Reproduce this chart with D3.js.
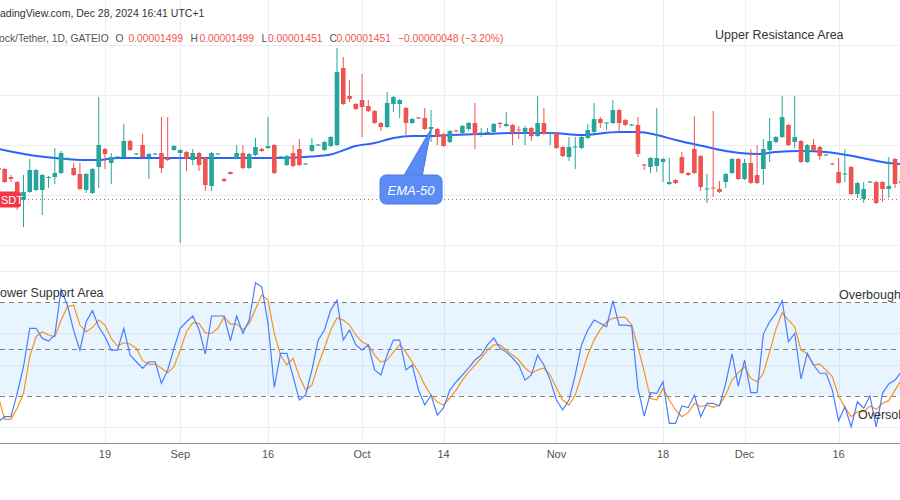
<!DOCTYPE html>
<html>
<head>
<meta charset="utf-8">
<script src="https://cdn.jsdelivr.net/npm/d3@7"></script>
<style>
  body { margin: 0; background: #fff; }
  svg { display: block; font-family: "Liberation Sans", Arial, sans-serif; }
</style>
</head>
<body>
<div id="chart"></div>
<script>
// Daily candles, prices in units of 1e-8 USDT (1451 = 0.00001451)
const open = [1514,1512,1496,1486,1450,1466,1470,1470,1494,1496,1504,1532,1514,1502,1470,1464,1516,1552,1524,1535,
  1536,1568,1541,1560,1536,1541,1544,1534,1550,1544,1546,1530,1544,1534,1478,1541,1492,1506,1534,1544,
  1514,1540,1552,1554,1560,1535,1520,1544,1552,1521,1548,1559,1550,1558,1560,1714,1658,1642,1650,1638,
  1628,1604,1596,1642,1642,1634,1604,1615,1614,1592,1592,1582,1566,1589,1584,1592,1604,1583,1584,1586,
  1604,1598,1600,1591,1584,1594,1578,1604,1583,1584,1556,1536,1555,1554,1574,1586,1612,1603,1604,1630,
  1610,1599,1600,1521,1516,1518,1526,1482,1490,1536,1504,1552,1538,1471,1475,1472,1486,1504,1532,1492,
  1524,1500,1512,1550,1566,1576,1600,1566,1568,1526,1560,1556,1539,1523,1506,1501,1516,1462,1452,1485,
  1486,1486,1472,1532,1488];
const high = [1516,1514,1500,1488,1500,1532,1512,1502,1498,1554,1548,1536,1524,1524,1504,1514,1656,1554,1544,1538,
  1602,1570,1544,1582,1544,1544,1616,1616,1560,1552,1548,1552,1546,1536,1546,1544,1494,1507,1560,1560,
  1544,1574,1554,1616,1562,1538,1540,1560,1572,1524,1574,1562,1568,1578,1754,1736,1690,1644,1702,1650,
  1630,1606,1666,1658,1652,1636,1614,1616,1634,1630,1594,1584,1590,1590,1600,1606,1644,1594,1594,1604,
  1606,1626,1602,1598,1598,1596,1658,1634,1586,1586,1558,1576,1576,1578,1602,1644,1616,1606,1650,1632,
  1612,1602,1616,1522,1536,1634,1534,1534,1492,1546,1506,1618,1540,1502,1628,1488,1504,1534,1534,1532,
  1552,1560,1572,1614,1578,1658,1602,1658,1570,1562,1572,1558,1542,1524,1534,1552,1518,1486,1486,1488,
  1488,1488,1536,1534,1490];
const low = [1508,1484,1486,1430,1396,1464,1468,1420,1474,1482,1502,1530,1498,1470,1464,1462,1474,1512,1482,1534,
  1534,1548,1540,1534,1492,1540,1504,1528,1548,1364,1508,1520,1508,1468,1468,1540,1486,1501,1532,1512,
  1512,1538,1546,1552,1502,1534,1518,1516,1518,1520,1546,1558,1548,1556,1558,1640,1646,1630,1576,1626,
  1602,1588,1594,1626,1614,1580,1602,1612,1590,1566,1560,1556,1564,1586,1582,1588,1552,1576,1582,1584,
  1594,1596,1560,1572,1560,1568,1576,1580,1560,1552,1536,1528,1512,1552,1572,1584,1594,1590,1602,1586,
  1598,1598,1536,1510,1504,1506,1486,1480,1482,1502,1498,1502,1468,1444,1456,1464,1474,1502,1490,1490,
  1482,1482,1480,1526,1564,1574,1558,1554,1524,1524,1548,1530,1538,1520,1482,1486,1460,1454,1444,1484,
  1442,1446,1454,1474,1480];
const close = [1510,1486,1492,1450,1466,1510,1510,1500,1496,1504,1544,1534,1500,1472,1502,1512,1560,1542,1536,1537,
  1568,1550,1543,1536,1542,1543,1514,1530,1558,1550,1532,1544,1520,1480,1544,1543,1488,1502,1544,1514,
  1542,1556,1548,1558,1504,1537,1538,1518,1520,1523,1560,1561,1566,1576,1706,1642,1652,1632,1636,1628,
  1604,1596,1644,1656,1650,1604,1612,1613,1592,1596,1576,1558,1588,1587,1598,1604,1580,1585,1586,1602,
  1602,1602,1584,1589,1594,1578,1604,1582,1585,1554,1538,1556,1557,1576,1590,1612,1604,1605,1630,1604,
  1600,1601,1542,1519,1534,1534,1532,1486,1484,1504,1500,1504,1476,1473,1473,1466,1502,1532,1492,1524,
  1484,1484,1552,1568,1576,1616,1560,1576,1526,1560,1550,1538,1541,1521,1484,1503,1462,1484,1472,1487,
  1444,1472,1478,1482,1484];

// EMA-50 read at a few bars
const emaBar = [0,5,9,13,16,19,24,36,44,50,53,57,60,63,66,69,72,77,83,88,93,99,102,105,108,113,116,121,124,128,132,137,142,144];
const emaVal = [1552,1540,1534,1530,1530,1534,1534,1534,1534,1537,1541,1558,1564,1574,1578,1578,1580,1582,1584,1584,1580,1586,1586,1580,1570,1556,1548,1542,1546,1548,1546,1536,1524,1522];

// Stochastic %K and %D
const stochK = [3.3,6.5,6.5,21.5,38.6,63.3,63.3,56.8,55.1,59,88.3,78.2,62,49.3,67.5,74.6,64.3,57.9,49.3,49.3,
  63.3,46.1,41.8,37.6,41.8,41.8,27.9,36.5,50.4,63.3,67.5,71.2,62.6,46.8,71.2,71.2,71.2,55.3,71.2,60,
  68.6,92.6,90,66.5,25.4,47.2,47.2,32.2,17.2,20.4,36.5,55.7,62.2,75,81.4,55.7,62.2,52.6,49.3,52.6,
  36.5,33.3,46.1,55.7,55.7,36.5,39.7,23.6,14,20.4,7.6,12.1,23.6,28.8,33.3,37.8,42.9,46.1,52.6,57,
  50.6,48,44.2,39.7,30,33.3,46.1,39.7,30,17.2,10.8,17.2,33.3,52.6,62.2,68.6,66.5,64.3,81,65.4,
  65.4,64.7,24.7,6.9,21.9,21.5,29,2.2,2.2,13.4,12.3,20.4,6.5,15.1,15.1,13.4,27.9,46.8,26.2,42.9,
  21.9,21.9,59.6,67.5,72.9,81,54.7,60,30.7,47.2,39.7,34.4,34.4,23.6,3.9,12.9,0,16.1,11.9,19.8,
  0,21.5,27.5,30,35.4];
const stochD = [19.3,4.8,4.8,11.9,21.5,45,57.9,61.1,59,57.9,68.6,77.1,78.2,65.4,61.1,63.9,68.6,65.4,56.8,51.9,
  54,53.2,50.4,42.5,40.3,40.3,37.6,34.7,38.6,49.3,61.1,66.9,66.5,60.4,60,63.3,70.7,66,66,62.2,
  66.5,75.5,84.7,81.4,60,46.1,39.7,44,32.2,23.6,26.8,39.7,50.6,62.2,69.9,68.6,65.4,59,54.5,52.6,
  46.1,41.6,42.9,48,52.6,48,41.6,35.2,26.8,20.4,15.9,14,18.5,23.6,30,35.2,39.7,44.2,49.3,52.6,
  52.6,49.3,46.1,42.9,37.8,34.6,36.5,37.8,33.3,24.9,17.2,14,20.4,33.3,46.1,55.7,62.6,67.5,69.7,70.3,
  70.3,65.4,51.4,35.4,18.3,17.2,24.7,17.2,10.8,6.5,9.1,15.1,12.9,14,12.5,14,20.4,30,34.7,38.6,
  31.1,29,34.4,48.2,62.6,73.3,68.6,64.3,49.3,47.2,39.7,40.3,36.5,32.2,19.8,12.5,6.5,9.7,9.7,13.4,
  11.2,15.1,16.8,23.6,30];

// Time axis labels (bar index)
const tickBar = [17,29,43,58,71,89,106,119,134];
const tickLabel = ["19","Sep","16","Oct","14","Nov","18","Dec","16"];

const priceGrid = [1360,1460,1560,1660,1760];
const lastPrice = 1451;
const stochGrid = [0,40,60,100];
const stochLevels = [20,50,80];

const emaNote = { bar: 69, price: 1592, text: "EMA-50" };

const W = 900, H = 500;
const up = "#26a69a", down = "#ef5350";

const svg = d3.select("#chart").append("svg")
    .attr("width", W)
    .attr("height", H);

const x = d3.scaleLinear().domain([0, 144]).range([-1.6, 901.3]);
const yP = d3.scaleLinear().domain([1330, 1770]).range([260, 40]);
const yS = d3.scaleLinear().domain([0, 100]).range([426.8, 271.2]);

// Grid
const grid = svg.append("g").attr("stroke", "#eaeff5").attr("stroke-width", 1);
grid.selectAll(".vg").data(tickBar).enter().append("line")
    .attr("x1", d => Math.round(x(d)) + 0.5).attr("x2", d => Math.round(x(d)) + 0.5)
    .attr("y1", 0).attr("y2", 443);
grid.selectAll(".hg").data(priceGrid).enter().append("line")
    .attr("x1", 0).attr("x2", W)
    .attr("y1", d => Math.round(yP(d)) + 0.5).attr("y2", d => Math.round(yP(d)) + 0.5);
grid.selectAll(".sg").data(stochGrid).enter().append("line")
    .attr("x1", 0).attr("x2", W)
    .attr("y1", d => Math.round(yS(d)) + 0.5).attr("y2", d => Math.round(yS(d)) + 0.5);

// Stochastic band
svg.append("rect")
    .attr("x", 0).attr("width", W)
    .attr("y", yS(80)).attr("height", yS(20) - yS(80))
    .attr("fill", "rgba(33,150,243,0.1)");
svg.selectAll(".lvl").data(stochLevels).enter().append("line")
    .attr("x1", 0).attr("x2", W)
    .attr("y1", d => Math.round(yS(d)) + 0.5).attr("y2", d => Math.round(yS(d)) + 0.5)
    .attr("stroke", "#808080").attr("stroke-dasharray", "5,4");

// Bottom axis
svg.append("line").attr("x1", 0).attr("x2", W).attr("y1", 443.5).attr("y2", 443.5)
    .attr("stroke", "#8a8d96");
svg.selectAll(".tl").data(tickBar).enter().append("text")
    .attr("x", d => x(d)).attr("y", 458)
    .attr("text-anchor", "middle")
    .attr("font-size", 11).attr("fill", "#555")
    .text((d, i) => tickLabel[i]);

// Last price line
svg.append("line").attr("x1", 20).attr("x2", W)
    .attr("y1", yP(lastPrice)).attr("y2", yP(lastPrice))
    .attr("stroke", "#ef5350").attr("stroke-dasharray", "1,3");

// EMA-50
svg.append("path")
    .datum(emaBar)
    .attr("fill", "none").attr("stroke", "#2962ff").attr("stroke-width", 2)
    .attr("d", d3.line().curve(d3.curveMonotoneX)
        .x(d => x(d)).y((d, i) => yP(emaVal[i])));

// Candles
const bars = d3.range(open.length);
const candle = svg.append("g").selectAll("g").data(bars).enter().append("g")
    .attr("fill", i => close[i] >= open[i] ? up : down)
    .attr("stroke", i => close[i] >= open[i] ? up : down);
candle.append("line")
    .attr("x1", i => x(i)).attr("x2", i => x(i))
    .attr("y1", i => yP(high[i])).attr("y2", i => yP(low[i]))
    .attr("stroke-width", 1);
candle.append("rect")
    .attr("x", i => x(i) - 2.3).attr("width", 4.6)
    .attr("y", i => yP(Math.max(open[i], close[i])))
    .attr("height", i => Math.max(1, Math.abs(yP(open[i]) - yP(close[i]))))
    .attr("stroke", "none");

// Stochastic lines
const sLine = d3.line().x((d, i) => x(i)).y(d => yS(d));
svg.append("path").datum(stochD)
    .attr("fill", "none").attr("stroke", "#f7931e").attr("stroke-width", 1.2)
    .attr("d", sLine);
svg.append("path").datum(stochK)
    .attr("fill", "none").attr("stroke", "#4a7dff").attr("stroke-width", 1.2)
    .attr("d", sLine);

// EMA callout
const tipX = x(emaNote.bar), tipY = yP(emaNote.price);
const note = svg.append("g");
note.append("path")
    .attr("d", `M${tipX - 28},${tipY + 48} L${tipX},${tipY} L${tipX - 9},${tipY + 48} Z`)
    .attr("fill", "#5b8cf5").attr("stroke", "#4a78e0");
note.append("rect")
    .attr("x", tipX - 51).attr("y", tipY + 46)
    .attr("width", 62).attr("height", 29).attr("rx", 6)
    .attr("fill", "#5b8cf5").attr("stroke", "#4a78e0");
note.append("path")
    .attr("d", `M${tipX - 27},${tipY + 47} L${tipX - 10},${tipY + 47}`)
    .attr("stroke", "#5b8cf5").attr("stroke-width", 2);
note.append("text")
    .attr("x", tipX - 20).attr("y", tipY + 65.5)
    .attr("text-anchor", "middle")
    .attr("font-size", 13).attr("font-style", "italic")
    .attr("fill", "#fff")
    .text(emaNote.text);

// Price tag on the left (label cut by the frame)
svg.append("rect").attr("x", -30).attr("y", yP(lastPrice) - 8)
    .attr("width", 51).attr("height", 16).attr("rx", 3)
    .attr("fill", "#f23645");
svg.append("text").attr("x", 1).attr("y", yP(lastPrice) + 4)
    .attr("font-size", 11).attr("fill", "#fff")
    .text("SDT");

// Header (left part is cut in the reference)
svg.append("text").attr("x", 0).attr("y", 17)
    .attr("font-size", 10.5).attr("fill", "#333")
    .text("adingView.com, Dec 28, 2024 16:41 UTC+1");

const head = [
  { x: -1, t: "ock/Tether, 1D, GATEIO", c: "#555" },
  { x: 115.5, t: "O", c: "#555" }, { x: 128.5, t: "0.00001499", c: down },
  { x: 190.5, t: "H", c: "#555" }, { x: 199.5, t: "0.00001499", c: down },
  { x: 261.5, t: "L", c: "#555" }, { x: 268, t: "0.00001451", c: down },
  { x: 329.5, t: "C", c: "#555" }, { x: 336.5, t: "0.00001451", c: down },
  { x: 398, t: "\u22120.00000048 (\u22123.20%)", c: down }
];
svg.selectAll(".hd").data(head).enter().append("text")
    .attr("x", d => d.x).attr("y", 42)
    .attr("font-size", 10.3).attr("fill", d => d.c)
    .text(d => d.t);

// Area labels
svg.append("text").attr("x", 715).attr("y", 39)
    .attr("font-size", 12.5).attr("fill", "#333").text("Upper Resistance Area");
svg.append("text").attr("x", 0).attr("y", 297)
    .attr("font-size", 12.5).attr("fill", "#333").text("ower Support Area");
svg.append("text").attr("x", 839).attr("y", 299)
    .attr("font-size", 12.5).attr("fill", "#333").text("Overbough");
svg.append("text").attr("x", 858).attr("y", 419)
    .attr("font-size", 12.5).attr("fill", "#333").text("Oversol");
</script>
</body>
</html>
